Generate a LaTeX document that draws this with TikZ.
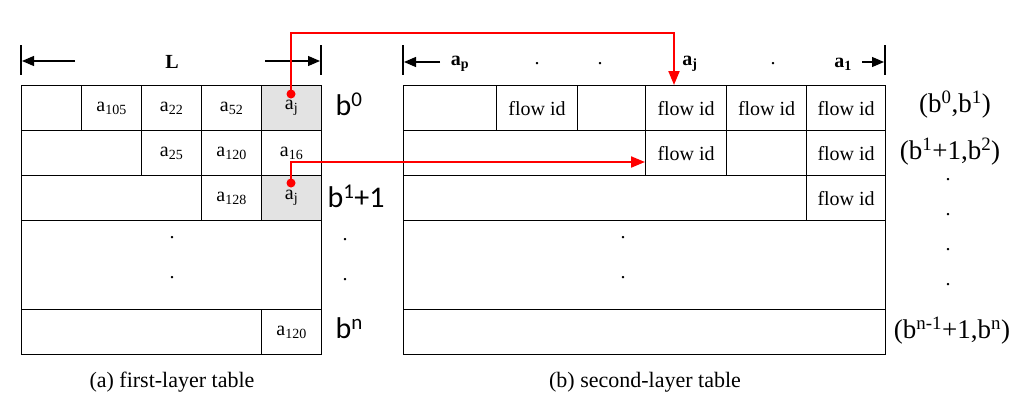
\documentclass[tikz,border=0pt]{standalone}
\usepackage{fontspec}
\setmainfont{Liberation Serif}
\newfontfamily\calib{Carlito}
\usetikzlibrary{arrows.meta}
\begin{document}
\begin{tikzpicture}[x=1pt,y=-1pt,
  cell/.style={draw,line width=1.2pt,minimum height=45pt,inner sep=0pt,anchor=north west,font=\fontsize{20}{22}\selectfont},
  gcell/.style={cell,fill=black!11},
  bl/.style={font=\calib\fontsize{30}{32}\selectfont,anchor=west},
  rl/.style={font=\fontsize{27}{29}\selectfont},
  dt/.style={font=\fontsize{20}{22}\selectfont},
  hd/.style={font=\bfseries\fontsize{20}{22}\selectfont},
  bar/.style={line width=1.2pt},
  arr/.style={line width=1.2pt,-{Triangle[length=12pt,width=10pt]}},
  redline/.style={draw=red,line width=2pt,-{Triangle[length=14pt,width=11pt]}},
  captxt/.style={font=\fontsize{22}{24}\selectfont}]
\useasboundingbox (0,0) rectangle (1024,407);
% left table
\node[cell,minimum width=60pt] (l11) at (21,85) {};
\node[cell,minimum width=60pt] (l12) at (81,85) {a\textsubscript{105}};
\node[cell,minimum width=60pt] (l13) at (141,85) {a\textsubscript{22}};
\node[cell,minimum width=60pt] (l14) at (201,85) {a\textsubscript{52}};
\node[gcell,minimum width=60pt] (l15) at (261,85) {a\textsubscript{j}};
\node[cell,minimum width=120pt] (l21) at (21,130) {};
\node[cell,minimum width=60pt] (l22) at (141,130) {a\textsubscript{25}};
\node[cell,minimum width=60pt] (l23) at (201,130) {a\textsubscript{120}};
\node[cell,minimum width=60pt] (l24) at (261,130) {a\textsubscript{16}};
\node[cell,minimum width=180pt] (l31) at (21,175) {};
\node[cell,minimum width=60pt] (l32) at (201,175) {a\textsubscript{128}};
\node[gcell,minimum width=60pt] (l33) at (261,175) {a\textsubscript{j}};
\node[cell,minimum width=300pt,minimum height=89pt] (l41) at (21,220) {};
\node[cell,minimum width=240pt] (l51) at (21,309) {};
\node[cell,minimum width=60pt] (l52) at (261,309) {a\textsubscript{120}};
\node[dt] (ld1) at (172,238) {.};
\node[dt] (ld2) at (172,278) {.};
% left labels
\node[bl] (b0) at (332,104) {b\textsuperscript{0}};
\node[bl] (b1) at (324,196) {b\textsuperscript{1}+1};
\node[dt] (lr1) at (345,240) {.};
\node[dt] (lr2) at (345,280) {.};
\node[bl] (bn) at (332,328) {b\textsuperscript{n}};
% left header
\coordinate (lt1) at (21,45); \coordinate (lb1) at (21,75);
\coordinate (lt2) at (321,45); \coordinate (lb2) at (321,75);
\draw[bar] (lt1) -- (lb1); \draw[bar] (lt2) -- (lb2);
\node[hd] (L) at (172,62) {L};
\coordinate (la1) at (75,61); \coordinate (la2) at (22,61);
\coordinate (la3) at (265,61); \coordinate (la4) at (320,61);
\draw[arr] (la1) -- (la2); \draw[arr] (la3) -- (la4);
% right table
\node[cell,minimum width=93pt] (r11) at (403,85) {};
\node[cell,minimum width=81pt] (r12) at (496,85) {flow id};
\node[cell,minimum width=68pt] (r13) at (577,85) {};
\node[cell,minimum width=81pt] (r14) at (645,85) {flow id};
\node[cell,minimum width=80pt] (r15) at (726,85) {flow id};
\node[cell,minimum width=79pt] (r16) at (806,85) {flow id};
\node[cell,minimum width=242pt] (r21) at (403,130) {};
\node[cell,minimum width=81pt] (r22) at (645,130) {flow id};
\node[cell,minimum width=80pt] (r23) at (726,130) {};
\node[cell,minimum width=79pt] (r24) at (806,130) {flow id};
\node[cell,minimum width=403pt] (r31) at (403,175) {};
\node[cell,minimum width=79pt] (r32) at (806,175) {flow id};
\node[cell,minimum width=482pt,minimum height=89pt] (r41) at (403,220) {};
\node[cell,minimum width=482pt] (r51) at (403,309) {};
\node[dt] (rd1) at (623,238) {.};
\node[dt] (rd2) at (623,278) {.};
% right labels
\node[rl] (rb0) at (955,105) {(b\textsuperscript{0},b\textsuperscript{1})};
\node[rl] (rb1) at (950,152) {(b\textsuperscript{1}+1,b\textsuperscript{2})};
\node[dt] (rr1) at (948,180) {.};
\node[dt] (rr2) at (948,215) {.};
\node[dt] (rr3) at (948,250) {.};
\node[dt] (rr4) at (948,285) {.};
\node[rl] (rbn) at (952,331) {(b\textsuperscript{n-1}+1,b\textsuperscript{n})};
% right header
\coordinate (rt1) at (403,45); \coordinate (rb1c) at (403,75);
\coordinate (rt2) at (885,45); \coordinate (rb2c) at (885,75);
\draw[bar] (rt1) -- (rb1c); \draw[bar] (rt2) -- (rb2c);
\coordinate (ra1) at (440,62); \coordinate (ra2) at (404,62);
\coordinate (ra3) at (862,62); \coordinate (ra4) at (884,62);
\draw[arr] (ra1) -- (ra2); \draw[arr] (ra3) -- (ra4);
\node[hd] (ap) at (460,64) {a\textsubscript{p}};
\node[dt] (h1) at (537,64) {.};
\node[dt] (h2) at (600,64) {.};
\node[hd] (aj) at (690,64) {a\textsubscript{j}};
\node[dt] (h3) at (773,64) {.};
\node[hd] (a1) at (843,64) {a\textsubscript{1}};
% red connectors
\coordinate (s1) at (291,94); \coordinate (s2) at (291,183);
\coordinate (t1) at (674,85); \coordinate (t2) at (645,162);
\fill[red] (s1) circle (4.5pt); \fill[red] (s2) circle (4.5pt);
\draw[redline] (s1) |- (674,33) -- (t1);
\draw[redline] (s2) |- (t2);
% captions
\node[captxt] (ca) at (172,382) {(a) first-layer table};
\node[captxt] (cb) at (645,382) {(b) second-layer table};
\end{tikzpicture}
\end{document}
